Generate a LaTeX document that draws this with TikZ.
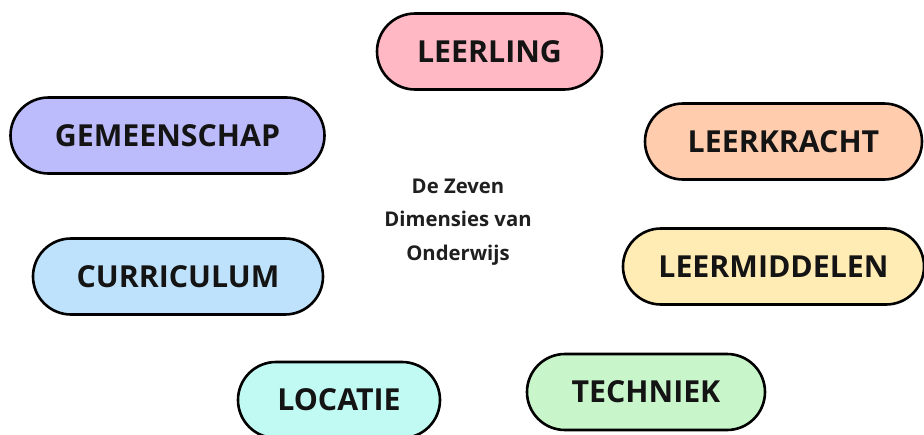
\documentclass[tikz,border=0pt]{standalone}
\usepackage{fontspec}
\setmainfont{Open Sans}
\usetikzlibrary{shapes.misc}
\definecolor{cPink}{HTML}{FFB8C4}
\definecolor{cLav}{HTML}{BCBCFC}
\definecolor{cPeach}{HTML}{FFCCAE}
\definecolor{cYellow}{HTML}{FFEBB4}
\definecolor{cBlue}{HTML}{BEE2FC}
\definecolor{cCyan}{HTML}{C0FAF2}
\definecolor{cGreen}{HTML}{C8F5CA}
\tikzset{
  dim/.style={rounded rectangle, draw=black, line width=2.6pt, inner sep=0pt,
    minimum height=76pt, font=\fontsize{30.3}{32}\selectfont\bfseries, text=black!92},
  centre/.style={align=center, font=\fontsize{20.3}{33.5}\selectfont\bfseries, text=black!88}
}
\begin{document}
\begin{tikzpicture}[x=1pt,y=-1pt]
\useasboundingbox (0,0) rectangle (924,434);
\node[dim, fill=cPink, minimum width=225pt] (leerling) at (489.5,51.5) {LEERLING};
\node[dim, fill=cLav, minimum width=314pt] (gemeenschap) at (167.5,135.5) {GEMEENSCHAP};
\node[dim, fill=cPeach, minimum width=277pt] (leerkracht) at (783.5,141.5) {LEERKRACHT};
\node[dim, fill=cYellow, minimum width=301pt] (leermiddelen) at (773.5,266.5) {LEERMIDDELEN};
\node[dim, fill=cBlue, minimum width=290pt] (curriculum) at (178,276.5) {CURRICULUM};
\node[dim, fill=cCyan, minimum width=202pt] (locatie) at (339,400) {LOCATIE};
\node[dim, fill=cGreen, minimum width=238pt] (techniek) at (646,392) {TECHNIEK};
\node[centre] (title) at (458,222) {De Zeven\\Dimensies van\\Onderwijs};
\end{tikzpicture}
\end{document}
